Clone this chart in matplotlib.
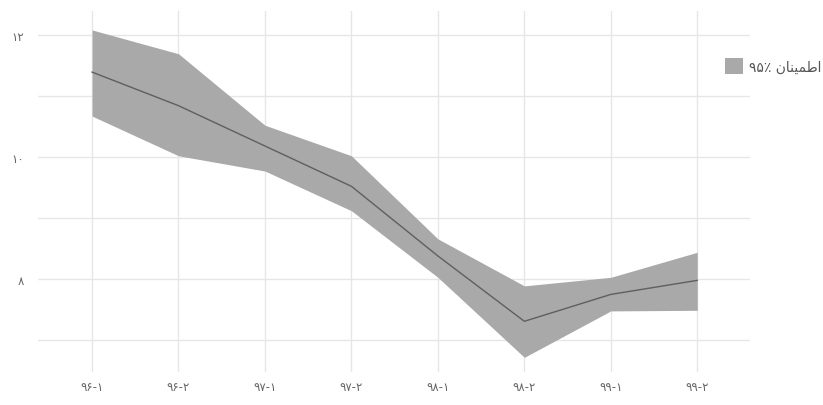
import matplotlib
matplotlib.use("Agg")
import matplotlib.pyplot as plt
import numpy as np

plt.rcParams['font.family'] = ['DejaVu Sans', 'Noto Sans']

# periods (Persian digits)
periods = ["۹۶-۱", "۹۶-۲", "۹۷-۱", "۹۷-۲", "۹۸-۱", "۹۸-۲", "۹۹-۱", "۹۹-۲"]
mean = [11.39, 10.84, 10.18, 9.52, 8.38, 7.31, 7.75, 7.98]
upper = [12.08, 11.69, 10.52, 10.02, 8.66, 7.89, 8.03, 8.44]
lower = [10.67, 10.02, 9.77, 9.12, 8.03, 6.72, 7.48, 7.49]

y_grid = [7, 8, 9, 10, 11, 12]
y_labels = ["", "۸", "", "۱۰", "", "۱۲"]

# "بازه اطمینان ۹۵٪" in visual (shaped, left-to-right) order
legend_label = ("۹۵٪ "
                "\uFEE5\uFE8E\uFEE8\uFEF4\uFEE4\uFEC3\uFE8D"
                " "
                "\uFEE9\uFEAF\uFE8E\uFE91")

W, H = 823, 406
fig = plt.figure(figsize=(W / 100, H / 100), dpi=100)
ax = fig.add_axes([38 / W, 1 - 373 / H, (750 - 38) / W, (373 - 12) / H])

x = np.arange(len(periods))
ax.fill_between(x, lower, upper, color='#a9a9a9', linewidth=0,
                label=legend_label, zorder=2)
ax.plot(x, mean, color='#5f5f5f', linewidth=1.0, zorder=3)

ax.set_xlim(-0.625, 7.61)
ax.set_ylim(6.48, 12.39)
ax.set_xticks(x)
ax.set_xticklabels(periods)
ax.set_yticks(y_grid)
ax.set_yticklabels(y_labels)

ax.grid(True, color='#e6e6e6', linewidth=1.0, zorder=0)
ax.set_axisbelow(True)
for s in ax.spines.values():
    s.set_visible(False)
ax.tick_params(axis='both', length=0, labelsize=8.5, colors='#666666')
ax.tick_params(axis='x', pad=6)
ax.tick_params(axis='y', pad=10)

fig.legend(loc='center left', bbox_to_anchor=(712 / W, 1 - 67 / H),
           frameon=False, fontsize=10, handlelength=1.35, handleheight=1.35,
           handletextpad=0.4, labelcolor='#555555')

fig.savefig("out.png", dpi=100, facecolor='white')
